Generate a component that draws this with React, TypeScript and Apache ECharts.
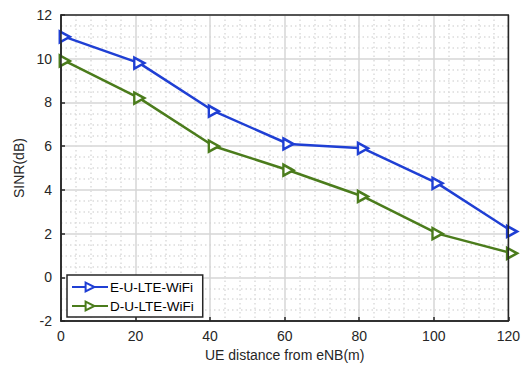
import React, { useEffect, useRef } from "react";
import * as echarts from "echarts";

const distances = [1, 21, 41, 61, 81, 101, 121];
const eULteWifi = [11.0, 9.8, 7.6, 6.1, 5.9, 4.3, 2.1];
const dULteWifi = [9.9, 8.2, 6.0, 4.9, 3.7, 2.0, 1.1];
const seriesNames = ["E-U-LTE-WiFi", "D-U-LTE-WiFi"];
const xTitle = "UE distance from eNB(m)";
const yTitle = "SINR(dB)";

const FONT = "Liberation Sans, Arial, sans-serif";
const TRI = "path://M0,0 L10,5 L0,10 Z";

export default function App() {
  const ref = useRef<HTMLDivElement>(null);
  useEffect(() => {
    if (!ref.current) return;
    const chart = echarts.init(ref.current, null, { renderer: "svg" });
    const mk = (name: string, data: number[], color: string) => ({
      name,
      type: "line",
      data: distances.map((d, i) => [d, data[i]]),
      clip: false,
      symbol: TRI,
      symbolSize: [10, 11],
      lineStyle: { color, width: 2.5 },
      itemStyle: { color: "#ffffff", borderColor: color, borderWidth: 2.5 },
      color,
      z: 3,
    });
    const axisLine = { show: true, onZero: false, lineStyle: { color: "#262626", width: 1.5 } };
    const axisTick = { show: true, inside: true, length: 4, lineStyle: { color: "#262626", width: 1.5 } };
    const split = { show: true, lineStyle: { color: "#d6d6d6", width: 1.5 } };
    const minorSplit = { show: true, lineStyle: { color: "#dcdcdc", width: 1.5, type: [1.5, 3] } };
    chart.setOption({
      animation: false,
      backgroundColor: "#ffffff",
      textStyle: { fontFamily: FONT },
      grid: {
        left: 61,
        right: 13,
        top: 15,
        bottom: 44,
        show: true,
        borderColor: "#262626",
        borderWidth: 1.5,
        z: 4,
      },
      legend: {
        orient: "vertical",
        left: 67,
        top: 275,
        itemWidth: 36,
        itemHeight: 11,
        itemGap: 5,
        padding: [5, 9, 4, 4],
        backgroundColor: "#ffffff",
        borderColor: "#262626",
        borderWidth: 1.5,
        borderRadius: 0,
        textStyle: { fontFamily: FONT, fontSize: 13.5, color: "#000", padding: [0, 0, 0, -3] },
        data: seriesNames,
      },
      xAxis: {
        type: "value",
        min: 0,
        max: 120,
        interval: 20,
        name: xTitle,
        nameLocation: "middle",
        nameGap: 25,
        nameTextStyle: { fontFamily: FONT, fontSize: 14, color: "#262626" },
        axisLine,
        axisTick,
        axisLabel: { show: true, fontFamily: FONT, fontSize: 14, color: "#262626", margin: 8 },
        splitLine: split,
        minorTick: { show: true, splitNumber: 5, length: 0, lineStyle: { width: 0 } },
        minorSplitLine: minorSplit,
      },
      yAxis: {
        type: "value",
        min: -2,
        max: 12,
        interval: 2,
        name: yTitle,
        nameLocation: "middle",
        nameGap: 32,
        nameTextStyle: { fontFamily: FONT, fontSize: 14, color: "#262626" },
        axisLine,
        axisTick,
        axisLabel: { show: true, fontFamily: FONT, fontSize: 14, color: "#262626", margin: 9 },
        splitLine: split,
        minorTick: { show: true, splitNumber: 4, length: 0, lineStyle: { width: 0 } },
        minorSplitLine: minorSplit,
      },
      series: [
        mk(seriesNames[0], eULteWifi, "#1f3fd4"),
        mk(seriesNames[1], dULteWifi, "#4b7c1c"),
      ],
    });
    return () => chart.dispose();
  }, []);
  return (
    <div
      ref={ref}
      style={{ position: "fixed", left: 0, top: 0, width: 523, height: 367 }}
    />
  );
}
